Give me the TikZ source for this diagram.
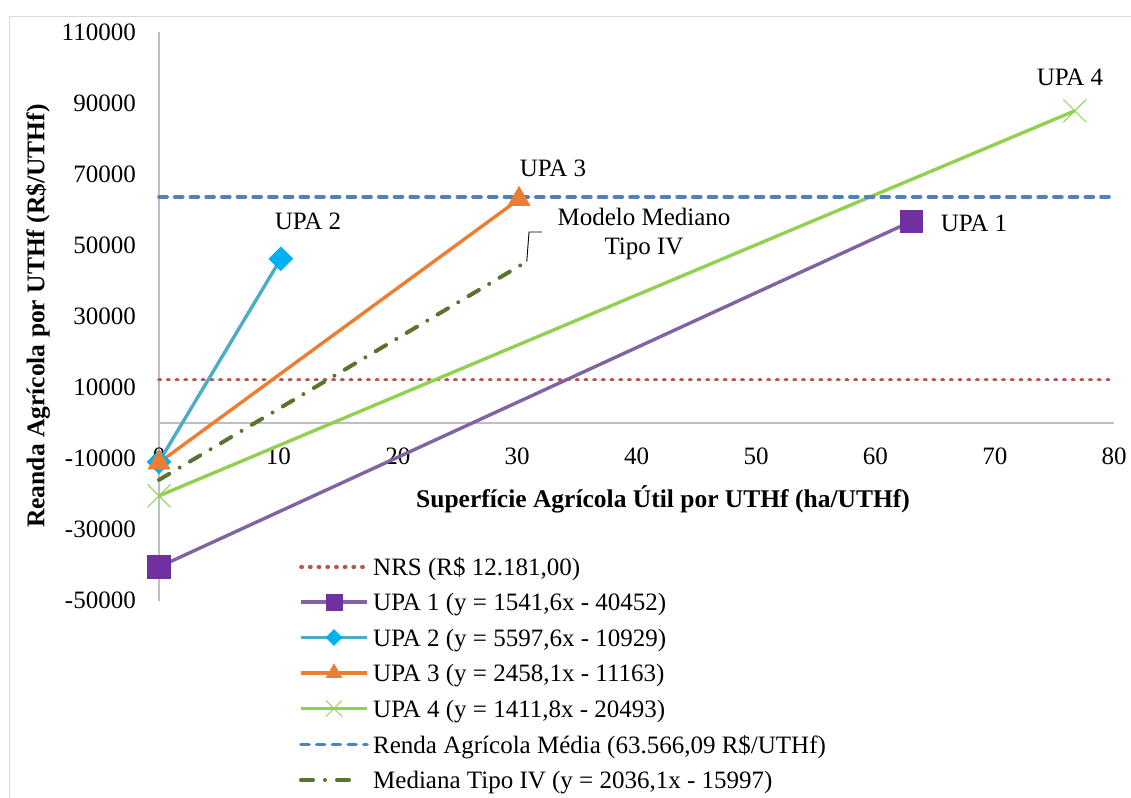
\documentclass[tikz,border=0pt]{standalone}
\usepackage{fontspec}
\setmainfont{Liberation Serif}
\usetikzlibrary{shapes.geometric,shapes.misc}

\definecolor{framegray}{HTML}{D9D9D9}
\definecolor{axisgray}{HTML}{BFBFBF}
\definecolor{nrsred}{HTML}{C0504D}
\definecolor{upaoneline}{HTML}{8064A2}
\definecolor{upaonefill}{HTML}{7030A0}
\definecolor{upatwoline}{HTML}{4BACC6}
\definecolor{upatwofill}{HTML}{00B0F0}
\definecolor{upathree}{HTML}{ED7D31}
\definecolor{upafour}{HTML}{92D050}
\definecolor{meanblue}{HTML}{4F81BD}
\definecolor{medolive}{HTML}{5B7330}

\begin{document}
\begin{tikzpicture}[x=1pt,y=-1pt,
  txt/.style={font=\fontsize{25}{29.5}\selectfont, inner sep=0pt},
  btxt/.style={font=\fontsize{25.5}{30}\selectfont\bfseries, inner sep=0pt},
  axisline/.style={draw=axisgray, line width=1.6pt},
  nrsline/.style={draw=nrsred, line width=3.6pt, line cap=round, dash pattern=on 1.2pt off 7.5pt},
  meanline/.style={draw=meanblue, line width=3.6pt, line cap=round, dash pattern=on 8pt off 7.7pt},
  medline/.style={draw=medolive, line width=4pt, line cap=round, dash pattern=on 12pt off 12pt on 0pt off 12pt},
  upaonestyle/.style={draw=upaoneline, line width=3.4pt},
  upatwostyle/.style={draw=upatwoline, line width=3.4pt},
  upathreestyle/.style={draw=upathree, line width=3.4pt},
  upafourstyle/.style={draw=upafour, line width=3.4pt},
  sqmark/.style={rectangle, fill=upaonefill, draw=upaonefill, line width=0.6pt, inner sep=0pt, minimum size=#1},
  dimark/.style={diamond, fill=upatwofill, draw=upatwofill, line width=0.6pt, inner sep=0pt, minimum width=#1, minimum height=#1},
  trimark/.style={regular polygon, regular polygon sides=3, fill=upathree, draw=upathree, line width=0.6pt, inner sep=0pt, minimum size=#1},
  xmark/.style={cross out, draw=upafour, line width=1pt, inner sep=0pt, minimum size=#1},
  leader/.style={draw=black, line width=0.9pt}
]
\useasboundingbox (0,0) rectangle (1131,797);

% chart area frame
\draw[framegray, line width=1.6pt] (9.5,16.5) rectangle (1150,815);

% plot area in data units (x in ha/UTHf, y in thousands of R$/UTHf)
\begin{scope}[shift={(159pt,-423pt)}, x=11.94pt, y=3.556pt]
  \coordinate (ytop) at (0,110);
  \coordinate (ybot) at (0,-50);
  \coordinate (xleft) at (0,0);
  \coordinate (xright) at (80,0);
  \draw[axisline] (ytop) -- (ybot);
  \draw[axisline] (xleft) -- (xright);

  % tick labels
  \foreach \v/\t in {110/110000,90/90000,70/70000,50/50000,30/30000,10/10000,-10/-10000,-30/-30000,-50/-50000}
    \node[txt, anchor=east] (ylab\t) at ([xshift=-23pt]0,\v) {\t};
  \foreach \v in {0,10,...,80}
    \node[txt] (xlab\v) at ([yshift=-33pt]\v,0) {\v};

  % reference levels
  \coordinate (nrsA) at (0,12.181);
  \coordinate (nrsB) at (80,12.181);
  \coordinate (meanA) at (0,63.566);
  \coordinate (meanB) at (80,63.566);
  \draw[nrsline] (nrsA) -- (nrsB);

  % series end points
  \coordinate (p1a) at (0,-40.452);
  \coordinate (p1b) at (63,56.67);
  \coordinate (p2a) at (0,-10.929);
  \coordinate (p2b) at (10.2,46.17);
  \coordinate (p3a) at (0,-11.163);
  \coordinate (p3b) at (30.15,62.95);
  \coordinate (p4a) at (0,-20.493);
  \coordinate (p4b) at (76.7,87.79);
  \coordinate (mda) at (0,-15.997);
  \coordinate (mdb) at (30.8,45.4);

  \draw[upaonestyle] (p1a) -- (p1b);
  \draw[upatwostyle] (p2a) -- (p2b);
  \draw[upathreestyle] (p3a) -- (p3b);
  \draw[upafourstyle] (p4a) -- (p4b);
  \draw[meanline] (meanA) -- (meanB);
  \draw[medline] (mda) -- (mdb);

  \node[sqmark=22.5pt] (m1a) at (p1a) {};
  \node[sqmark=22.5pt] (m1b) at (p1b) {};
  \node[dimark=24pt] (m2a) at (p2a) {};
  \node[dimark=24pt] (m2b) at (p2b) {};
  \node[trimark=25.5pt] (m3a) at (p3a) {};
  \node[trimark=25.5pt] (m3b) at (p3b) {};
  \node[xmark=22pt] (m4a) at (p4a) {};
  \node[xmark=22pt] (m4b) at (p4b) {};
\end{scope}

% data labels
\node[txt] (lab2) at (308,221) {UPA 2};
\node[txt] (lab3) at (553,168.5) {UPA 3};
\node[txt] (lab4) at (1070,77.5) {UPA 4};
\node[txt] (lab1) at (974,223.5) {UPA 1};
\node[txt, align=center] (labmed) at (644,234) {Modelo Mediano\\Tipo IV};
\coordinate (ldbend) at (529,232);
\coordinate (ldend) at (542,232);
\draw[leader] (mdb) -- (ldbend) -- (ldend);

% axis titles
\node[btxt] (xtitle) at (663,499) {Superfície Agrícola Útil por UTHf (ha/UTHf)};
\node[btxt, rotate=90] (ytitle) at (38,316) {Reanda Agrícola por UTHf (R\$/UTHf)};

% legend
\foreach \k/\y in {a/567,b/602,c/637.5,d/673,e/708.5,f/744.5,g/780}{
  \coordinate (lg\k L) at (301,\y);
  \coordinate (lg\k R) at (367,\y);
  \coordinate (lg\k M) at (334,\y);
}
\draw[nrsline] (lgaL) -- (lgaR);
\draw[upaonestyle] (lgbL) -- (lgbR);
\draw[upatwostyle] (lgcL) -- (lgcR);
\draw[upathreestyle] (lgdL) -- (lgdR);
\draw[upafourstyle] (lgeL) -- (lgeR);
\draw[meanline] (lgfL) -- (lgfR);
\draw[medline] (lggL) -- ([xshift=-8pt]lggR);
\node[sqmark=16pt] (lgbm) at (lgbM) {};
\node[dimark=16pt] (lgcm) at (lgcM) {};
\node[trimark=18pt] (lgdm) at (lgdM) {};
\node[xmark=15pt] (lgem) at (lgeM) {};

\node[txt, anchor=base west] (lgta) at ([yshift=-8.5pt]373,567) {NRS (R\$ 12.181,00)};
\node[txt, anchor=base west] (lgtb) at ([yshift=-8.5pt]373,602) {UPA 1 (y = 1541,6x - 40452)};
\node[txt, anchor=base west] (lgtc) at ([yshift=-8.5pt]373,637.5) {UPA 2 (y = 5597,6x - 10929)};
\node[txt, anchor=base west] (lgtd) at ([yshift=-8.5pt]373,673) {UPA 3 (y = 2458,1x - 11163)};
\node[txt, anchor=base west] (lgte) at ([yshift=-8.5pt]373,708.5) {UPA 4 (y = 1411,8x - 20493)};
\node[txt, anchor=base west] (lgtf) at ([yshift=-8.5pt]373,744.5) {Renda Agrícola Média (63.566,09 R\$/UTHf)};
\node[txt, anchor=base west] (lgtg) at ([yshift=-8.5pt]373,780) {Mediana Tipo IV (y = 2036,1x - 15997)};
\end{tikzpicture}
\end{document}
